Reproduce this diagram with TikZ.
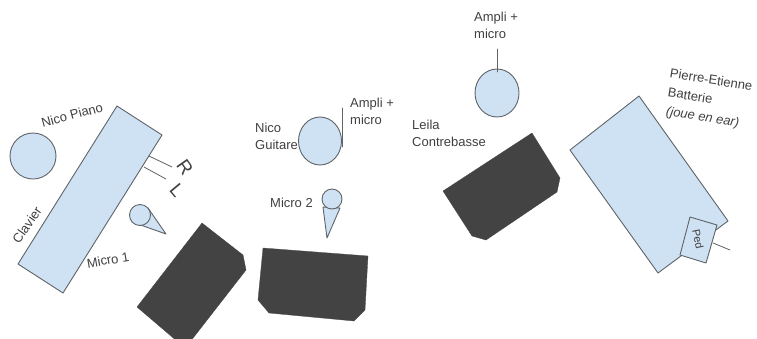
\documentclass[tikz,border=0pt]{standalone}
\usepackage{fontspec}
\setmainfont{Liberation Sans}
\definecolor{bleu}{HTML}{CFE2F3}
\definecolor{noir}{HTML}{434343}
\definecolor{trait}{HTML}{5F6368}
\definecolor{texte}{HTML}{404040}
\tikzset{
	objet/.style={draw=trait,fill=bleu,line width=0.9pt,line join=round},
	meuble/.style={fill=noir,draw=noir,line width=0.3pt,line join=round},
	fil/.style={draw=trait,line width=0.8pt},
	label/.style={text=texte,font=\fontsize{13}{17}\selectfont,align=left,inner sep=0pt},
	grand/.style={text=texte,font=\fontsize{19}{22}\selectfont,inner sep=0pt}
}
\begin{document}
\begin{tikzpicture}[x=1pt,y=-1pt,line cap=round]
	\path[use as bounding box] (0,0) rectangle (757,338);
	\clip (0,0) rectangle (757,338);
	% noirs
	\fill[meuble] (202,223)--(243,255)--(246,270)--(190,342)--(178,342)--(137,307)--cycle;
	\fill[meuble] (263,248)--(368,256)--(365,310)--(354,321)--(269,313)--(258,300)--cycle;
	\fill[meuble] (532,133)--(560,178)--(557,192)--(486,240)--(472,236)--(443,191)--cycle;
	% piano
	\draw[objet] (117,106)--(162,135)--(63,293)--(18,264)--cycle;
	\draw[objet] (33,156) circle (23);
	\coordinate (rA) at (149,156);
	\coordinate (rB) at (172,167);
	\coordinate (lA) at (144,167);
	\coordinate (lB) at (166,179);
	\draw[fil] (rA)--(rB);
	\draw[fil] (lA)--(lB);
	\node[label,rotate=15] (piano) at (72,115) {Nico Piano};
	\node[label,rotate=55] (clavier) at (27,225) {Clavier};
	\node[grand,rotate=-55] (r) at (185,167) {R};
	\node[grand,rotate=-50] (l) at (177,190) {L};
	\node[label,rotate=10] (micro1) at (108,260) {Micro 1};
	% micro 1
	\draw[objet] (148,208)--(166,234)--(132,222)--cycle;
	\draw[objet] (140,215) circle (10.5);
	% guitare
	\draw[objet] (320,141) ellipse (21.5 and 24);
	\coordinate (gA) at (342,108);
	\coordinate (gB) at (342,147);
	\draw[fil] (gA)--(gB);
	\node[label,anchor=north west] (nico) at (255,123) {Nico\\Guitare};
	\node[label,anchor=north west] (ampli1) at (350,98) {Ampli +\\micro};
	\node[label,anchor=west] (micro2) at (270,203) {Micro 2};
	% micro 2
	\draw[objet] (323,207)--(327,238)--(340,208)--cycle;
	\draw[objet] (332,199) circle (10);
	% contrebasse
	\draw[objet] (497,93) ellipse (22 and 24);
	\coordinate (cA) at (497,49);
	\coordinate (cB) at (497,72);
	\draw[fil] (cA)--(cB);
	\node[label,anchor=north west] (ampli2) at (474,12) {Ampli +\\micro};
	\node[label,anchor=north west] (leila) at (412,120) {Leila\\Contrebasse};
	% batterie
	\draw[objet] (639,96)--(728,221)--(658,273)--(570,150)--cycle;
	\coordinate (pA) at (713,243);
	\coordinate (pB) at (730,250);
	\draw[fil] (pA)--(pB);
	\draw[objet,fill=bleu] (690,217)--(717,225)--(706,263)--(680,255)--cycle;
	\node[label,rotate=-78,font=\fontsize{11}{13}\selectfont] (ped) at (698,239) {Ped};
	\node[label,anchor=west,rotate=-9] (pierre) at (670,73) {Pierre-Etienne};
	\node[label,anchor=west,rotate=-9] (batterie) at (668,92) {Batterie};
	\node[label,anchor=west,rotate=-9] (ear) at (666,112) {\itshape(joue en ear)};
\end{tikzpicture}
\end{document}
